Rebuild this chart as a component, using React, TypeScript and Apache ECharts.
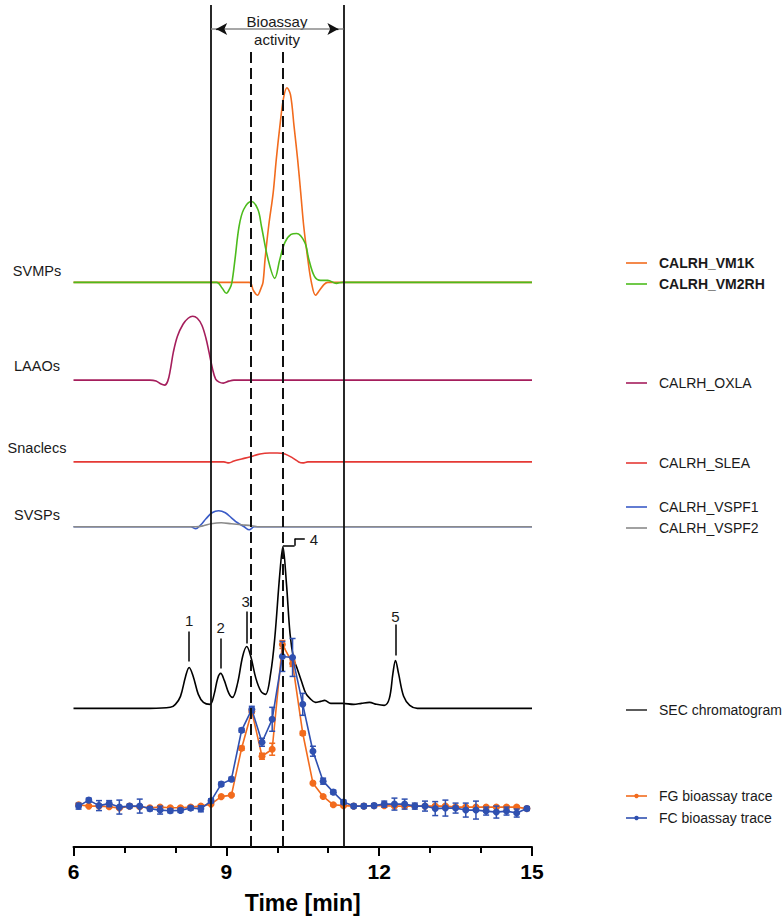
import React, { useEffect, useRef } from "react";
import * as echarts from "echarts";

// ---------------- data ----------------
// proteomics traces: [time (min), relative intensity above trace baseline]
const vm1k: [number, number][] = [
  [6, 0], [9.45, 0], [9.53, -8], [9.61, -13], [9.68, -6], [9.72, 0], [9.76, 23], [9.83, 56],
  [9.92, 90], [9.98, 123], [10.05, 156], [10.12, 184], [10.19, 195], [10.26, 188], [10.33, 156],
  [10.4, 123], [10.46, 90], [10.52, 56], [10.6, 23], [10.67, 0], [10.75, -13], [10.83, -8],
  [10.92, -2], [10.99, 0], [15, 0],
];
const vm2rh: [number, number][] = [
  [6, 0], [8.81, 0], [8.92, -6], [9.0, -11], [9.07, -6], [9.11, 0], [9.17, 23], [9.25, 56],
  [9.34, 73], [9.49, 81], [9.62, 73], [9.69, 56], [9.82, 23], [9.95, 4], [10.05, 23], [10.15, 40],
  [10.27, 48], [10.38, 49], [10.54, 40], [10.62, 23], [10.73, 6], [10.85, 2], [10.99, 2],
  [11.16, -1], [11.28, 0], [15, 0],
];
const oxla: [number, number][] = [
  [6, 0], [7.5, 0], [7.62, -1], [7.72, -4], [7.79, -5], [7.85, -1], [7.9, 10], [7.96, 28],
  [8.04, 44], [8.15, 56], [8.25, 62], [8.34, 64], [8.43, 62], [8.52, 55], [8.6, 42], [8.66, 28],
  [8.73, 11], [8.79, 1], [8.86, -2], [8.94, -3], [9.05, -1], [9.15, 0], [15, 0],
];
const slea: [number, number][] = [
  [6, 0], [8.95, 0], [9.05, -1], [9.15, 1], [9.3, 3], [9.46, 5], [9.66, 8], [9.85, 9], [10.0, 9],
  [10.15, 8], [10.3, 4], [10.42, 0], [10.5, -1], [10.6, 0], [15, 0],
];
const vspf1: [number, number][] = [
  [6, 0], [8.3, 0], [8.4, -2], [8.5, 2], [8.6, 8], [8.72, 14], [8.85, 16], [8.98, 14], [9.1, 9],
  [9.22, 4], [9.35, 0], [9.45, -3], [9.55, 0], [15, 0],
];
const vspf2: [number, number][] = [
  [6, 0], [8.4, 0], [8.55, 1], [8.7, 3], [8.9, 4], [9.1, 3], [9.3, 2], [9.5, 1], [9.65, 0],
  [15, 0],
];
const sec: [number, number][] = [
  [6, 0], [7.5, 0], [7.9, 1], [8.0, 4], [8.1, 12], [8.2, 32], [8.27, 41], [8.35, 32], [8.45, 14],
  [8.55, 6], [8.68, 4], [8.76, 14], [8.83, 30], [8.89, 35], [8.96, 28], [9.05, 15], [9.12, 11],
  [9.22, 25], [9.32, 52], [9.4, 62], [9.48, 52], [9.58, 30], [9.68, 17], [9.77, 14], [9.87, 35],
  [9.95, 70], [10.05, 135], [10.11, 162], [10.18, 125], [10.25, 75], [10.32, 50], [10.39, 40],
  [10.47, 28], [10.56, 15], [10.64, 10], [10.75, 6], [10.85, 7], [10.93, 8], [11.05, 5],
  [11.28, 5], [11.5, 4], [11.65, 5], [11.81, 6], [11.95, 4], [12.1, 3], [12.2, 10], [12.27, 35],
  [12.32, 48], [12.38, 35], [12.48, 12], [12.6, 3], [12.75, 0], [15, 0],
];

// bioassay traces
const assayTimes = [
  6.1, 6.3, 6.5, 6.7, 6.9, 7.1, 7.3, 7.5, 7.7, 7.9, 8.1, 8.3, 8.5, 8.7, 8.9, 9.1, 9.3, 9.5, 9.7,
  9.9, 10.1, 10.3, 10.5, 10.7, 10.9, 11.1, 11.3, 11.5, 11.7, 11.9, 12.1, 12.3, 12.5, 12.7, 12.9,
  13.1, 13.3, 13.5, 13.7, 13.9, 14.1, 14.3, 14.5, 14.7, 14.9,
];
const fgActivity = [
  1.3, 0, 0, -0.7, -2, 0, -0.7, -1.7, -1, -1.7, -1.7, -1, 0, 2, 9.5, 11, 58, 95, 50, 57, 162,
  143, 73, 23, 9.7, 1.3, 0.5, 0, 0, 0.3, 0.3, 0, 0, 0, 0, 0, 0, -1, -1, -1, -1, -1, -1, -1, -2.5,
];
const fgError = [
  1, 1, 1, 1, 1, 1, 1, 1, 1, 1, 1, 1, 1, 1, 1, 1, 2, 2, 3, 6, 4, 3, 2, 1, 1, 1, 1, 1, 1, 1, 1, 1,
  1, 1, 1, 1, 1, 1, 1, 1, 1, 1, 1, 1, 1,
];
const fcActivity = [
  0, 6, 0.5, 2.5, -1, 0, 0, -2.7, -4, -4.7, -4.3, -2, -2.7, 5.3, 22, 27, 76, 97, 64, 87, 150, 149,
  102, 55, 25, 14, 4, 0, 0, 0.5, 2, 2, 2, 0, 0, -2.5, -2, -2, -4, -4, -5, -6, -5, -7, -2.5,
];
const fcError = [
  3, 2, 5, 3, 7, 2, 7, 2, 4, 2, 2, 2, 3, 2, 2, 2, 2, 3, 4, 12, 15, 19, 11, 5, 3, 2, 2, 2, 2, 2, 3,
  6, 5, 3, 5, 7, 8, 5, 7, 9, 4, 6, 4, 4, 2,
];

const xTickValues = [6, 9, 12, 15];
const activityWindow = [8.7, 11.3];
const fractionMarks = [9.47, 10.1];
const peakLabels = ["1", "2", "3", "4", "5"];
const peakTimes = [8.27, 8.89, 9.4, 10.11, 12.32];

// ---------------- layout / style ----------------
const W = 783;
const H = 919;
const GRID_TOP = 5;
const AXIS_Y = 849;
const YMAX = AXIS_Y - GRID_TOP;
const py = (pixelY: number) => AXIS_Y - pixelY; // vertical placement helper (layout only)

const OFF_SVMP = py(283);
const OFF_LAAO = py(381);
const OFF_SLEA = py(463);
const OFF_SVSP = py(528);
const OFF_SEC = py(710);
const OFF_ASSAY = py(808);

const FONT = "'Liberation Sans', Arial, Helvetica, sans-serif";
const C = {
  vm1k: "#F26B1D",
  vm2rh: "#4CBB1C",
  oxla: "#A51E5C",
  slea: "#E53935",
  vspf1: "#3A5BC7",
  vspf2: "#8A8A8A",
  sec: "#000000",
  fg: "#F26B1D",
  fc: "#2F50B0",
  text: "#1a1a1a",
};

const shift = (pts: [number, number][], off: number) => pts.map(([x, y]) => [x, y + off]);

const traceSeries = (name: string, pts: [number, number][], off: number, color: string, z: number) => ({
  name,
  type: "line",
  data: shift(pts, off),
  symbol: "none",
  smooth: 0.35,
  lineStyle: { color, width: 1.6 },
  itemStyle: { color },
  z,
  silent: true,
});

const errorSeries = (name: string, values: number[], errs: number[], color: string, z: number) => ({
  name,
  type: "custom",
  z,
  silent: true,
  data: assayTimes.map((t, i) => [t, values[i] + OFF_ASSAY, errs[i]]),
  renderItem: (_p: any, api: any) => {
    const x = api.value(0);
    const y = api.value(1);
    const e = api.value(2);
    const top = api.coord([x, y + e]);
    const bot = api.coord([x, y - e]);
    const style = { stroke: color, lineWidth: 1.5 };
    return {
      type: "group",
      children: [
        { type: "line", shape: { x1: top[0], y1: top[1], x2: bot[0], y2: bot[1] }, style },
        { type: "line", shape: { x1: top[0] - 3, y1: top[1], x2: top[0] + 3, y2: top[1] }, style },
        { type: "line", shape: { x1: bot[0] - 3, y1: bot[1], x2: bot[0] + 3, y2: bot[1] }, style },
      ],
    };
  },
});

const legendItems = [
  { name: "CALRH_VM1K", color: C.vm1k, y: 263, bold: true, dot: false },
  { name: "CALRH_VM2RH", color: C.vm2rh, y: 284, bold: true, dot: false },
  { name: "CALRH_OXLA", color: C.oxla, y: 383, bold: false, dot: false },
  { name: "CALRH_SLEA", color: C.slea, y: 463, bold: false, dot: false },
  { name: "CALRH_VSPF1", color: C.vspf1, y: 507, bold: false, dot: false },
  { name: "CALRH_VSPF2", color: C.vspf2, y: 528, bold: false, dot: false },
  { name: "SEC chromatogram", color: "#333333", y: 710, bold: false, dot: false },
  { name: "FG bioassay trace", color: C.fg, y: 796, bold: false, dot: true },
  { name: "FC bioassay trace", color: C.fc, y: 818, bold: false, dot: true },
];

const familyLabels = [
  { text: "SVMPs", y: 271 },
  { text: "LAAOs", y: 366 },
  { text: "Snaclecs", y: 448 },
  { text: "SVSPs", y: 515 },
];

const textEl = (text: string, x: number, y: number, size: number, align: string, weight = "normal") => ({
  type: "text",
  x,
  y,
  silent: true,
  style: {
    text,
    fill: C.text,
    font: `${weight} ${size}px ${FONT}`,
    fontSize: size,
    fontFamily: FONT,
    fontWeight: weight,
    align,
    verticalAlign: "middle",
    textAlign: align,
    textVerticalAlign: "middle",
  },
});

export default function App() {
  const ref = useRef<HTMLDivElement>(null);

  useEffect(() => {
    document.body.style.margin = "0";
    if (!ref.current) return;
    const chart = echarts.init(ref.current, undefined, { renderer: "svg" });

    const graphics: any[] = [];
    familyLabels.forEach((f) => graphics.push(textEl(f.text, 37, f.y, 14.5, "center")));
    legendItems.forEach((l) => {
      graphics.push({
        type: "line",
        silent: true,
        shape: { x1: 626, y1: l.y, x2: 647, y2: l.y },
        style: { stroke: l.color, lineWidth: 1.6 },
      });
      if (l.dot) {
        graphics.push({
          type: "circle",
          silent: true,
          shape: { cx: 636.5, cy: l.y, r: 2.2 },
          style: { fill: l.color },
        });
      }
      graphics.push(textEl(l.name, 659, l.y, 14, "left", l.bold ? "bold" : "normal"));
    });
    graphics.push(textEl("Bioassay", 277, 21, 15, "center"));
    graphics.push(textEl("activity", 277, 39, 15, "center"));

    const thin = { color: "#000", width: 1.5, type: "solid" };
    const arrowY = py(29);
    const markLineData: any[] = [
      ...activityWindow.map((x) => [
        { coord: [x, 0], lineStyle: { color: "#111", width: 1.8, type: "solid" } },
        { coord: [x, YMAX] },
      ]),
      ...fractionMarks.map((x) => [
        { coord: [x, 0], lineStyle: { color: "#111", width: 2, type: [11, 5] } },
        { coord: [x, py(52)] },
      ]),
      // bioassay activity double arrow: grey shaft, black heads
      [
        { coord: [activityWindow[0], arrowY], lineStyle: { color: "#8a8a8a", width: 1.5, type: "solid" } },
        { coord: [activityWindow[1], arrowY] },
      ],
      [
        { coord: [activityWindow[0] + 0.2, arrowY], lineStyle: { color: "#111", width: 1.2, type: "solid" } },
        { coord: [activityWindow[0] + 0.1, arrowY], symbol: "arrow", symbolSize: [9, 11] },
      ],
      [
        { coord: [activityWindow[1] - 0.2, arrowY], lineStyle: { color: "#111", width: 1.2, type: "solid" } },
        { coord: [activityWindow[1] - 0.1, arrowY], symbol: "arrow", symbolSize: [9, 11] },
      ],
      // peak label leaders
      [{ coord: [peakTimes[0], py(663)], lineStyle: thin }, { coord: [peakTimes[0], py(633)] }],
      [{ coord: [peakTimes[1], py(670)], lineStyle: thin }, { coord: [peakTimes[1], py(640)] }],
      [{ coord: [peakTimes[2], py(645)], lineStyle: thin }, { coord: [peakTimes[2], py(613)] }],
      [{ coord: [peakTimes[4], py(657)], lineStyle: thin }, { coord: [peakTimes[4], py(626)] }],
      [{ coord: [peakTimes[3], py(547)], lineStyle: thin }, { coord: [10.34, py(547)] }],
      [{ coord: [10.34, py(547)], lineStyle: thin }, { coord: [10.34, py(540)] }],
      [{ coord: [10.34, py(540)], lineStyle: thin }, { coord: [10.54, py(540)] }],
    ];

    const labelPos = [
      [peakTimes[0], py(622)],
      [peakTimes[1], py(629)],
      [9.38, py(603)],
      [10.72, py(541)],
      [peakTimes[4], py(618)],
    ];

    const option: any = {
      animation: false,
      backgroundColor: "#ffffff",
      grid: { left: 73.5, right: W - 532, top: GRID_TOP, bottom: H - AXIS_Y, containLabel: false },
      xAxis: {
        type: "value",
        min: 6,
        max: 15,
        interval: 3,
        name: "Time [min]",
        nameLocation: "middle",
        nameGap: 44,
        nameTextStyle: { fontSize: 23, fontWeight: "bold", color: "#000", fontFamily: FONT },
        axisLine: { show: true, lineStyle: { color: "#000", width: 2 } },
        axisTick: { show: true, length: 9, lineStyle: { color: "#000", width: 2 } },
        minorTick: { show: true, splitNumber: 3, length: 6, lineStyle: { color: "#000", width: 2 } },
        splitLine: { show: false },
        minorSplitLine: { show: false },
        axisLabel: {
          fontSize: 21,
          fontWeight: "bold",
          color: "#000",
          fontFamily: FONT,
          margin: 14,
          customValues: xTickValues,
        },
      },
      yAxis: { type: "value", min: 0, max: YMAX, show: false },
      graphic: graphics,
      series: [
        traceSeries("CALRH_VM1K", vm1k, OFF_SVMP, C.vm1k, 2),
        traceSeries("CALRH_VM2RH", vm2rh, OFF_SVMP, C.vm2rh, 3),
        traceSeries("CALRH_OXLA", oxla, OFF_LAAO, C.oxla, 2),
        traceSeries("CALRH_SLEA", slea, OFF_SLEA, C.slea, 2),
        traceSeries("CALRH_VSPF1", vspf1, OFF_SVSP, C.vspf1, 2),
        traceSeries("CALRH_VSPF2", vspf2, OFF_SVSP, C.vspf2, 3),
        {
          ...traceSeries("SEC chromatogram", sec, OFF_SEC, C.sec, 2),
          lineStyle: { color: C.sec, width: 1.6 },
          markLine: {
            silent: true,
            symbol: ["none", "none"],
            symbolSize: [9, 11],
            label: { show: false },
            data: markLineData,
            z: 10,
          },
          markPoint: {
            silent: true,
            symbol: "circle",
            symbolSize: 1,
            itemStyle: { color: "rgba(0,0,0,0)" },
            label: { show: true, position: "inside", formatter: "{b}", fontSize: 15, color: C.text, fontFamily: FONT },
            data: peakLabels.map((n, i) => ({ name: n, coord: labelPos[i] })),
          },
        },
        errorSeries("FG error", fgActivity, fgError, C.fg, 4),
        {
          name: "FG bioassay trace",
          type: "line",
          data: assayTimes.map((t, i) => [t, fgActivity[i] + OFF_ASSAY]),
          symbol: "circle",
          symbolSize: 7,
          showSymbol: true,
          lineStyle: { color: C.fg, width: 1.6 },
          itemStyle: { color: C.fg },
          z: 5,
          silent: true,
        },
        errorSeries("FC error", fcActivity, fcError, C.fc, 6),
        {
          name: "FC bioassay trace",
          type: "line",
          data: assayTimes.map((t, i) => [t, fcActivity[i] + OFF_ASSAY]),
          symbol: "circle",
          symbolSize: 7,
          showSymbol: true,
          lineStyle: { color: C.fc, width: 1.6 },
          itemStyle: { color: C.fc },
          z: 7,
          silent: true,
        },
      ],
    };

    chart.setOption(option);
    return () => chart.dispose();
  }, []);

  return <div ref={ref} style={{ width: W, height: H }} />;
}
